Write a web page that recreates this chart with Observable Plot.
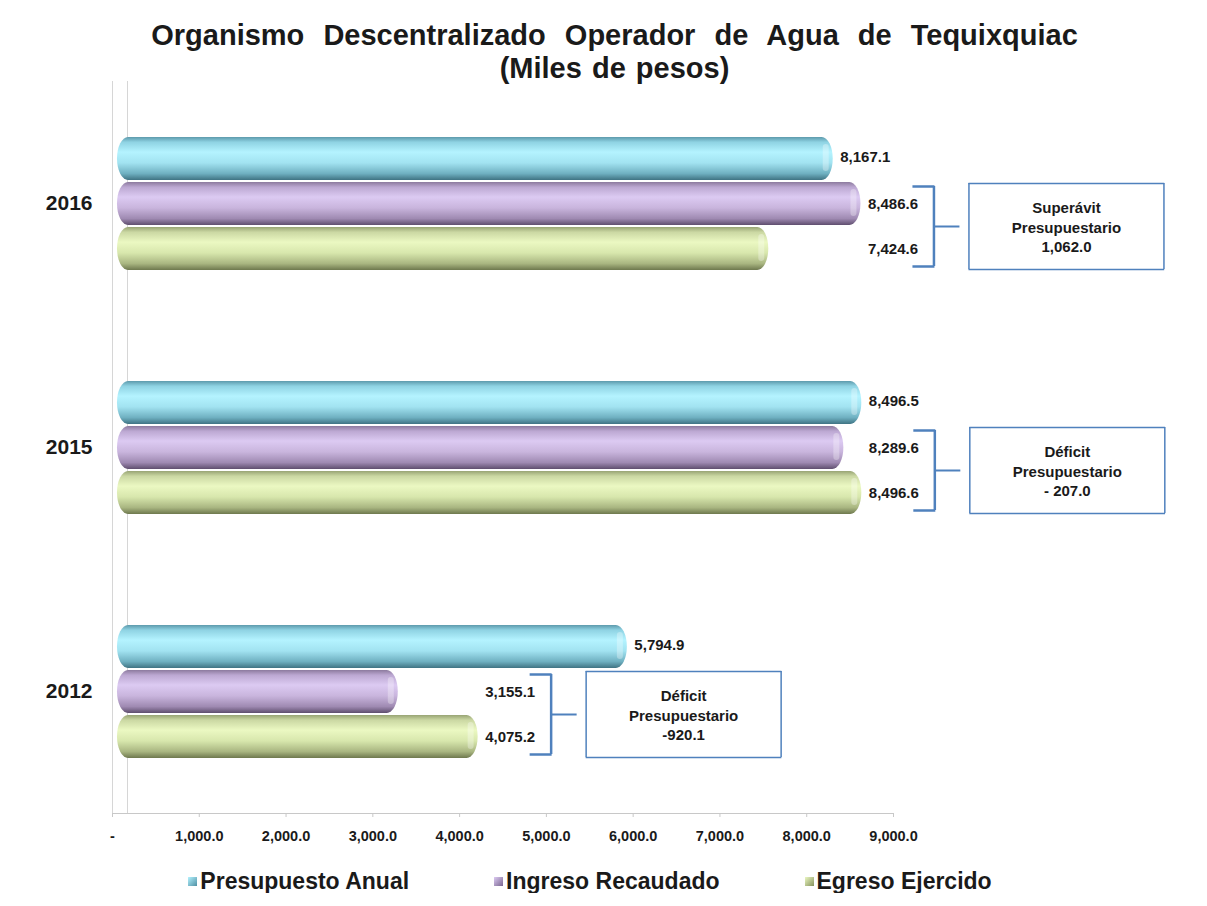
<!DOCTYPE html>
<html>
<head>
<meta charset="utf-8">
<script src="https://cdn.jsdelivr.net/npm/d3@7"></script>
<script src="https://cdn.jsdelivr.net/npm/@observablehq/plot@0.6"></script>
<style>
  html, body { margin: 0; padding: 0; background: #ffffff; }
  body { width: 1207px; font-family: "Liberation Sans", Arial, sans-serif; color: #1a1a1a; }
  #title { box-sizing: border-box; height: 80px; padding-top: 19px; padding-left: 22px; text-align: center;
           font-size: 29px; font-weight: bold; line-height: 33px; word-spacing: 11px; overflow: visible; white-space: nowrap; }
  #title .sub { word-spacing: 2px; }
  #chart svg { display: block; }
  #legend { display: flex; justify-content: center; gap: 85px; margin-top: 21px; padding-right: 27px;
            font-size: 23px; font-weight: bold; line-height: 24px; }
  .item { display: flex; align-items: center; gap: 3px; white-space: nowrap; }
  .sw { width: 9px; height: 9px; display: inline-block; }
</style>
</head>
<body>
<div id="title">Organismo Descentralizado Operador de Agua de Tequixquiac<br><span class="sub">(Miles de pesos)</span></div>
<div id="chart"></div>
<div id="legend"></div>
<script>
// ---- data ----
const years = ["2016", "2015", "2012"];
const seriesNames = ["Presupuesto Anual", "Ingreso Recaudado", "Egreso Ejercido"];
const presupuestoAnual = [8167.1, 8496.5, 5794.9];
const ingresoRecaudado = [8486.6, 8289.6, 3155.1];
const egresoEjercido = [7424.6, 8496.6, 4075.2];
const balanceTipo = ["Superávit", "Déficit", "Déficit"];
const balanceValor = ["1,062.0", "- 207.0", "-920.1"];
const xTicks = [0, 1000, 2000, 3000, 4000, 5000, 6000, 7000, 8000, 9000];

// ---- styles ----
const gradients = [
  [["0", "#5d9aac"], ["0.12", "#8fd3e3"], ["0.35", "#b4f3ff"], ["0.6", "#a2e3f1"], ["0.85", "#6fb0c1"], ["1", "#3f7383"]],
  [["0", "#8c7a9e"], ["0.12", "#bca8d2"], ["0.35", "#dccaf2"], ["0.6", "#c9b5dd"], ["0.85", "#9f8ab2"], ["1", "#5f4e6e"]],
  [["0", "#98a474"], ["0.12", "#cbd8a3"], ["0.35", "#ebf8c2"], ["0.6", "#d8e7ad"], ["0.85", "#a9b681"], ["1", "#6e784e"]]
];
const swatchCss = ["linear-gradient(135deg,#b4f3ff,#4f8fa3)", "linear-gradient(135deg,#dccaf2,#7a6690)", "linear-gradient(135deg,#ebf8c2,#86925d)"];
const bracketColor = "#4f81bd";

// ---- derived tables ----
const valuesBySeries = [presupuestoAnual, ingresoRecaudado, egresoEjercido];
const rows = years.flatMap((year, i) => seriesNames.map((series, k) => ({year, series, k, value: valuesBySeries[k][i]})));
const groups = years.map((year, i) => ({
  year,
  anchor: Math.max(ingresoRecaudado[i], egresoEjercido[i]),
  text: `${balanceTipo[i]}\nPresupuestario\n${balanceValor[i]}`
}));
const anchorOf = new Map(groups.map(g => [g.year, g.anchor]));
const fmt = d3.format(",.1f");
const [S0, S1, S2] = seriesNames;
const half = 22.5;

const labelStyle = {fontSize: 15, fontWeight: "bold", fill: "#1a1a1a", textAnchor: "start"};
const ann = {x: "anchor", fy: "year", stroke: bracketColor};

const marks = [
  // back wall
  Plot.ruleX([0], {stroke: "#d6d6d6"}),
  Plot.ruleX([0], {stroke: "#d6d6d6", dx: 15}),
  Plot.frame({anchor: "bottom", facetAnchor: "bottom", stroke: "#c8c8c8"}),
  // cylinders
  ...seriesNames.map((s, k) => Plot.barX(rows.filter(d => d.k === k), {
    x: "value", y: "series", fy: "year", fill: `url(#grad${k})`,
    rx: 11, ry: 22, insetLeft: 5, insetRight: -12, insetTop: 1, insetBottom: 1
  })),
  // end cap highlight
  Plot.barX(rows, {x1: "value", x2: "value", y: "series", fy: "year", fill: "#ffffff", fillOpacity: 0.3,
    rx: 3, insetLeft: 2, insetRight: -8, insetTop: 8, insetBottom: 10}),
  // value labels
  Plot.text(rows.filter(d => d.k === 0), {x: "value", y: "series", fy: "year", text: d => fmt(d.value), dx: 19, dy: -2, ...labelStyle}),
  Plot.text(rows.filter(d => d.k !== 0), {x: d => anchorOf.get(d.year), y: "series", fy: "year", text: d => fmt(d.value), dx: 19, ...labelStyle}),
  // bracket
  Plot.tickX(groups, {...ann, y: () => S1, dx: 85, strokeWidth: 2.5, insetTop: 5}),
  Plot.tickX(groups, {...ann, y: () => S2, dx: 85, strokeWidth: 2.5, insetBottom: 5}),
  Plot.ruleY(groups, {fy: "year", stroke: bracketColor, strokeWidth: 2.5, x1: "anchor", x2: "anchor", y: () => S1, dy: -half + 5, insetLeft: 64, insetRight: -86}),
  Plot.ruleY(groups, {fy: "year", stroke: bracketColor, strokeWidth: 2.5, x1: "anchor", x2: "anchor", y: () => S2, dy: half - 5, insetLeft: 64, insetRight: -86}),
  Plot.ruleY(groups, {fy: "year", stroke: bracketColor, strokeWidth: 2, x1: "anchor", x2: "anchor", y: () => S2, dy: -half, insetLeft: 85, insetRight: -111}),
  // box
  Plot.tickX(groups, {...ann, y: () => S1, dx: 120, strokeWidth: 1.5, insetTop: 2}),
  Plot.tickX(groups, {...ann, y: () => S2, dx: 120, strokeWidth: 1.5, insetBottom: 2}),
  Plot.tickX(groups, {...ann, y: () => S1, dx: 315, strokeWidth: 1.5, insetTop: 2}),
  Plot.tickX(groups, {...ann, y: () => S2, dx: 315, strokeWidth: 1.5, insetBottom: 2}),
  Plot.ruleY(groups, {fy: "year", stroke: bracketColor, strokeWidth: 1.5, x1: "anchor", x2: "anchor", y: () => S1, dy: -half + 2, insetLeft: 120, insetRight: -315.75}),
  Plot.ruleY(groups, {fy: "year", stroke: bracketColor, strokeWidth: 1.5, x1: "anchor", x2: "anchor", y: () => S2, dy: half - 2, insetLeft: 120, insetRight: -315.75}),
  Plot.text(groups, {x: "anchor", y: () => S2, fy: "year", text: "text", dx: 217.5, dy: -half,
    fontSize: 15, fontWeight: "bold", fill: "#1a1a1a", lineHeight: 1.3, textAnchor: "middle"}),
  // axes
  Plot.axisX({ticks: xTicks, tickFormat: d => d === 0 ? "-" : fmt(d), tickSize: 4, tickPadding: 13,
    stroke: "#c8c8c8", fill: "#1a1a1a", fontSize: 14.5, fontWeight: "bold", label: null}),
  Plot.axisFy({anchor: "left", label: null, tickSize: 0, tickPadding: 20, fontSize: 21, fontWeight: "bold", fill: "#1a1a1a"})
];

const chart = Plot.plot({
  width: 1207,
  height: 768,
  marginTop: 1,
  marginBottom: 35,
  marginLeft: 112,
  marginRight: 314,
  style: {fontFamily: "'Liberation Sans', Arial, sans-serif", background: "transparent", color: "#1a1a1a", overflow: "visible"},
  x: {domain: [0, 9000]},
  y: {domain: seriesNames, padding: 0, insetTop: 54.5, insetBottom: 54.5, axis: null},
  fy: {domain: years, padding: 0},
  marks
});

// gradient definitions for the cylinder look
const svg = d3.select(chart.tagName.toLowerCase() === "svg" ? chart : chart.querySelector("svg"));
const defs = svg.insert("defs", ":first-child");
gradients.forEach((stops, k) => {
  const g = defs.append("linearGradient").attr("id", `grad${k}`).attr("x1", 0).attr("y1", 0).attr("x2", 0).attr("y2", 1);
  stops.forEach(([o, c]) => g.append("stop").attr("offset", o).attr("stop-color", c));
});
document.getElementById("chart").appendChild(chart);

// legend
const legend = d3.select("#legend");
seriesNames.forEach((s, k) => {
  const it = legend.append("div").attr("class", "item");
  it.append("span").attr("class", "sw").style("background", swatchCss[k]);
  it.append("span").text(s);
});
</script>
</body>
</html>
